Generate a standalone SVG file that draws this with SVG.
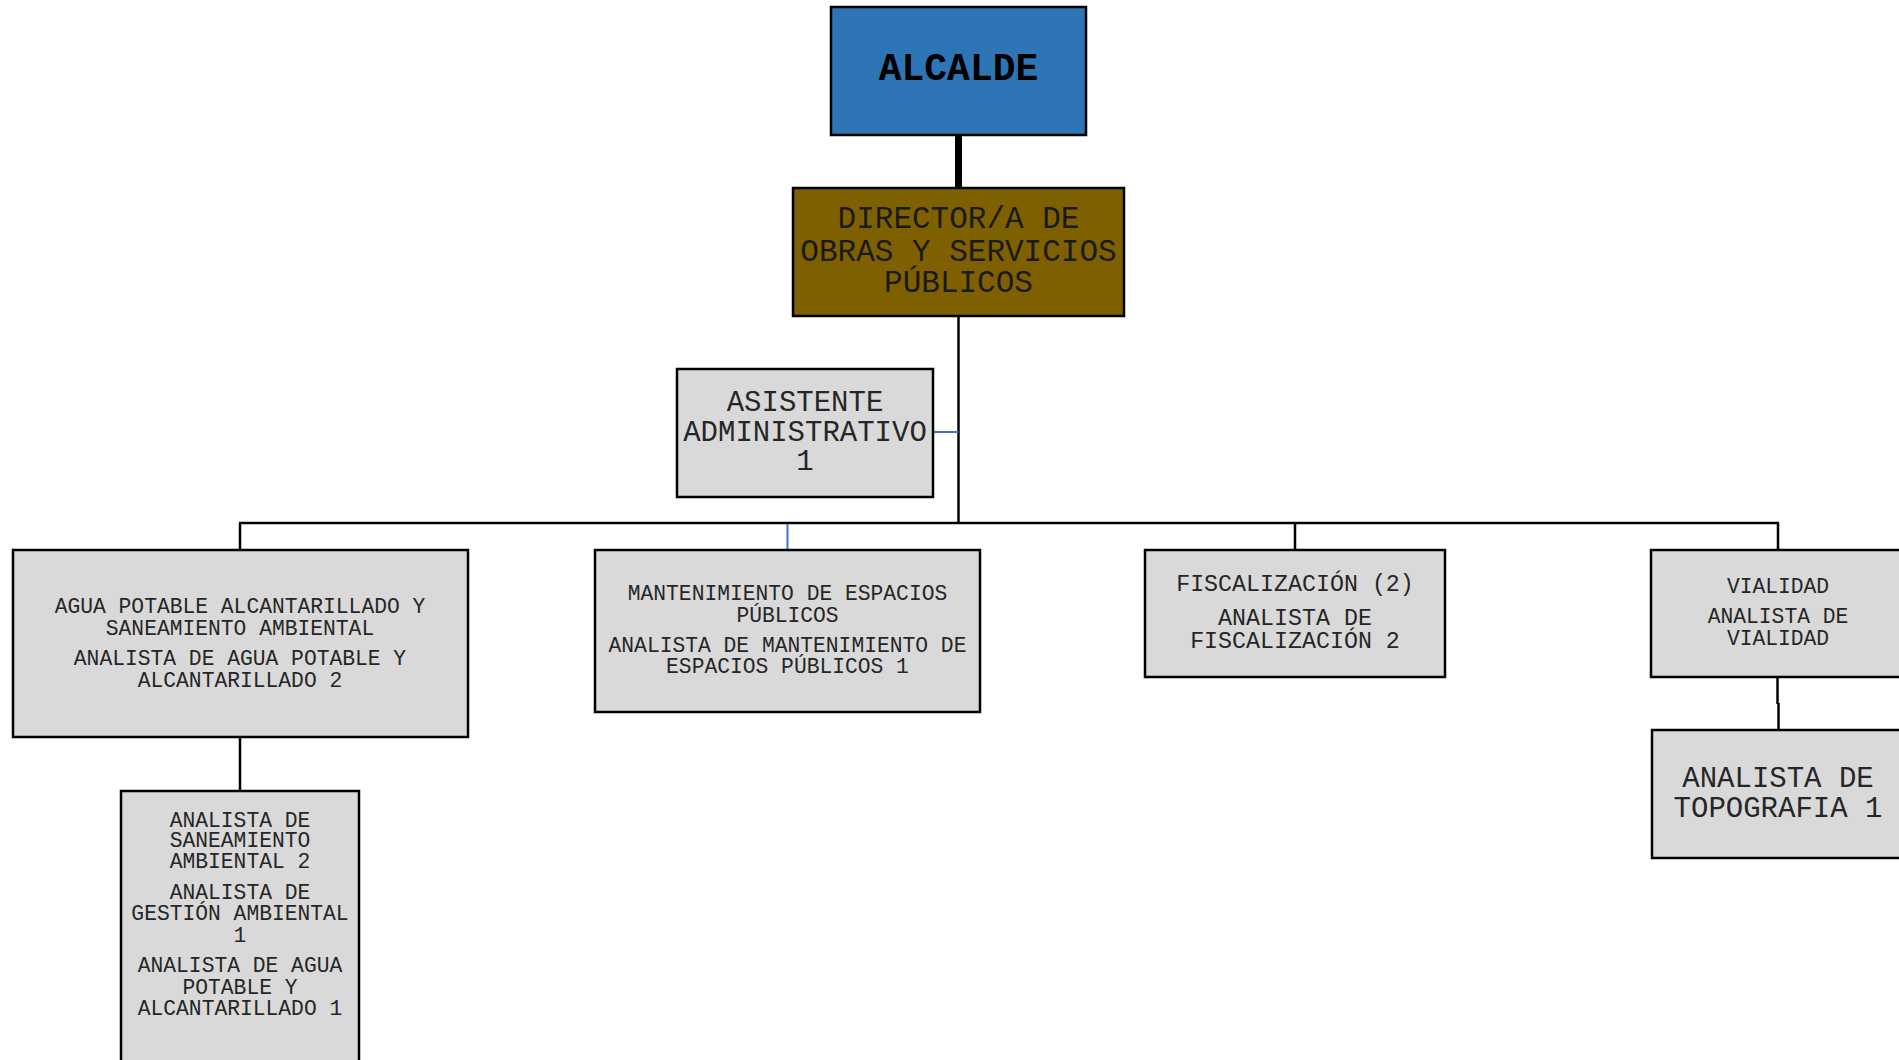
<svg xmlns="http://www.w3.org/2000/svg" width="1899" height="1060" viewBox="0 0 1899 1060">
<style>
.box{fill:#D9D9D9;stroke:#000;stroke-width:2.5}
.t{font-family:"Courier New","Liberation Mono",monospace;text-anchor:middle;fill:#262626}
.s{font-size:21.3px}
.m{font-size:23.3px}
.l{font-size:29px}
.c{fill:none;stroke:#000;stroke-width:2.5}
.b{fill:none;stroke:#4472C4;stroke-width:2}
</style>
<rect width="1899" height="1060" fill="#fff"/>
<g id="connectors">
<line x1="958.5" y1="135" x2="958.5" y2="188" stroke="#000" stroke-width="7"/>
<line class="c" x1="958.5" y1="316" x2="958.5" y2="523"/>
<line class="b" x1="933" y1="432" x2="958.5" y2="432"/>
<line class="c" x1="239" y1="523" x2="1779" y2="523"/>
<line class="c" x1="240" y1="523" x2="240" y2="550"/>
<line class="b" x1="787.5" y1="524" x2="787.5" y2="550"/>
<line class="c" x1="1295" y1="523" x2="1295" y2="550"/>
<line class="c" x1="1778" y1="523" x2="1778" y2="550"/>
<line class="c" x1="240" y1="737" x2="240" y2="791"/>
<line class="c" x1="1777.5" y1="677" x2="1777.5" y2="704"/>
<line class="c" x1="1778.5" y1="703" x2="1778.5" y2="730"/>
</g>
<g id="alcalde">
<rect x="831" y="7" width="255" height="128" fill="#2E75B6" stroke="#000" stroke-width="2.5"/>
<text class="t" x="958.5" y="80" font-size="38" font-weight="bold" style="fill:#000">ALCALDE</text>
</g>
<g id="director">
<rect x="793" y="188" width="331" height="128" fill="#7F6000" stroke="#000" stroke-width="2.5"/>
<text class="t" font-size="31" style="fill:#1a1a1a"><tspan x="958.5" y="228">DIRECTOR/A DE</tspan><tspan x="958.5" y="260.5">OBRAS Y SERVICIOS</tspan><tspan x="958.5" y="292">PÚBLICOS</tspan></text>
</g>
<g id="asistente">
<rect class="box" x="677" y="369" width="256" height="128"/>
<text class="t l"><tspan x="805" y="411">ASISTENTE</tspan><tspan x="805" y="441">ADMINISTRATIVO</tspan><tspan x="805" y="470">1</tspan></text>
</g>
<g id="agua">
<rect class="box" x="13" y="550" width="455" height="187"/>
<text class="t s"><tspan x="240" y="613">AGUA POTABLE ALCANTARILLADO Y</tspan><tspan x="240" y="634.5">SANEAMIENTO AMBIENTAL</tspan><tspan x="240" y="665">ANALISTA DE AGUA POTABLE Y</tspan><tspan x="240" y="686.5">ALCANTARILLADO 2</tspan></text>
</g>
<g id="mantenimiento">
<rect class="box" x="595" y="550" width="385" height="162"/>
<text class="t s"><tspan x="787.5" y="599.5">MANTENIMIENTO DE ESPACIOS</tspan><tspan x="787.5" y="621.5">PÚBLICOS</tspan><tspan x="787.5" y="651.5">ANALISTA DE MANTENIMIENTO DE</tspan><tspan x="787.5" y="673.3">ESPACIOS PÚBLICOS 1</tspan></text>
</g>
<g id="fiscalizacion">
<rect class="box" x="1145" y="550" width="300" height="127"/>
<text class="t m"><tspan x="1295" y="590.5">FISCALIZACIÓN (2)</tspan><tspan x="1295" y="625">ANALISTA DE</tspan><tspan x="1295" y="647.5">FISCALIZACIÓN 2</tspan></text>
</g>
<g id="vialidad">
<rect class="box" x="1651" y="550" width="254" height="127"/>
<text class="t s"><tspan x="1778" y="593">VIALIDAD</tspan><tspan x="1778" y="623">ANALISTA DE</tspan><tspan x="1778" y="645">VIALIDAD</tspan></text>
</g>
<g id="topografia">
<rect class="box" x="1652" y="730" width="254" height="128"/>
<text class="t l"><tspan x="1778" y="786.5">ANALISTA DE</tspan><tspan x="1778" y="816.5">TOPOGRAFIA 1</tspan></text>
</g>
<g id="analistas">
<rect class="box" x="121" y="791" width="238" height="300"/>
<text class="t s"><tspan x="240" y="826.5">ANALISTA DE</tspan><tspan x="240" y="847">SANEAMIENTO</tspan><tspan x="240" y="868">AMBIENTAL 2</tspan><tspan x="240" y="898.5">ANALISTA DE</tspan><tspan x="240" y="920">GESTIÓN AMBIENTAL</tspan><tspan x="240" y="942">1</tspan><tspan x="240" y="972">ANALISTA DE AGUA</tspan><tspan x="240" y="993.5">POTABLE Y</tspan><tspan x="240" y="1015">ALCANTARILLADO 1</tspan></text>
</g>
</svg>
